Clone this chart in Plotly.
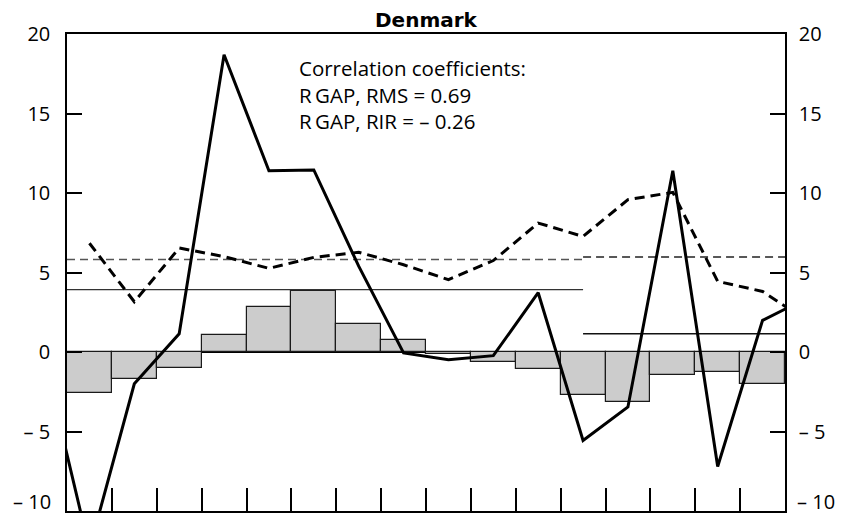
import plotly.graph_objects as go

# Period index: bars sit at 0..15; line series carry one extra period on each side
periods = list(range(16))
gap_bars = [-2.6, -1.68, -1.0, 1.04, 2.83, 3.84, 1.76, 0.73,
            -0.12, -0.6, -1.05, -2.71, -3.15, -1.45, -1.26, -2.04]

solid_x = list(range(-1, 17))
solid_vals = [-0.5, -12.4, -2.0, 1.15, 18.7, 11.4, 11.45, 5.4, -0.06,
              -0.48, -0.23, 3.73, -5.56, -3.46, 11.4, -7.2, 1.99, 3.4]

dashed_x = list(range(0, 17))
dashed_vals = [6.84, 3.16, 6.54, 6.0, 5.26, 5.95, 6.27, 5.49, 4.55,
               5.75, 8.11, 7.27, 9.58, 10.04, 4.44, 3.81, 1.95]

# Sub-period averages (split at period 11)
split_x = 11
solid_mean_left, solid_mean_right = 3.92, 1.15
dashed_mean_left, dashed_mean_right = 5.82, 5.97

y_ticks = [-10, -5, 0, 5, 10, 15, 20]
y_labels = ["\u2013 10", "\u2013 5", "0", "5", "10", "15", "20"]
y_min, y_max = y_ticks[0], y_ticks[-1]
# The lowest label is lifted slightly so it stays inside the page
axis_ticktext = [""] + y_labels[1:]

FONT = "Open Sans"

fig = go.Figure()

fig.add_trace(go.Bar(
    x=periods, y=gap_bars, width=1.0,
    marker=dict(color="#cccccc", line=dict(color="#1a1a1a", width=1.2)),
    showlegend=False, hoverinfo="skip",
))

# Horizontal average lines
fig.add_trace(go.Scatter(
    x=[-0.5, split_x], y=[solid_mean_left, solid_mean_left], mode="lines",
    line=dict(color="#333333", width=1.4), showlegend=False, hoverinfo="skip"))
fig.add_trace(go.Scatter(
    x=[split_x, 15.5], y=[solid_mean_right, solid_mean_right], mode="lines",
    line=dict(color="#111111", width=1.4), showlegend=False, hoverinfo="skip"))
fig.add_trace(go.Scatter(
    x=[-0.5, split_x], y=[dashed_mean_left, dashed_mean_left], mode="lines",
    line=dict(color="#555555", width=1.5, dash="8px,5px"), showlegend=False, hoverinfo="skip"))
fig.add_trace(go.Scatter(
    x=[split_x, 15.5], y=[dashed_mean_right, dashed_mean_right], mode="lines",
    line=dict(color="#222222", width=1.5, dash="8px,5px"), showlegend=False, hoverinfo="skip"))

fig.add_trace(go.Scatter(
    x=dashed_x, y=dashed_vals, mode="lines",
    line=dict(color="black", width=3, dash="10px,6px"),
    showlegend=False, hoverinfo="skip"))
fig.add_trace(go.Scatter(
    x=solid_x, y=solid_vals, mode="lines",
    line=dict(color="black", width=3),
    showlegend=False, hoverinfo="skip"))

# Invisible trace to carry the right-hand axis
fig.add_trace(go.Scatter(x=[0], y=[0], yaxis="y2", mode="markers",
                         marker=dict(opacity=0), showlegend=False, hoverinfo="skip"))

axis_font = dict(family=FONT, size=20, color="black")

fig.update_layout(
    width=848, height=517, autosize=False,
    margin=dict(l=67, r=63, t=34, b=6),
    paper_bgcolor="white", plot_bgcolor="white",
    bargap=0,
    xaxis=dict(
        range=[-0.5, 15.5], tickvals=[i + 0.5 for i in range(15)],
        ticks="inside", ticklen=23, tickwidth=1.5, tickcolor="black",
        showticklabels=False, showgrid=False, zeroline=False, automargin=False,
        showline=True, linecolor="black", linewidth=1.5, mirror=True,
    ),
    yaxis=dict(
        range=[y_min, y_max], tickvals=y_ticks, ticktext=axis_ticktext,
        ticks="inside", ticklen=15, tickwidth=1.5, tickcolor="black",
        tickfont=axis_font, ticklabelstandoff=11, ticklabeloverflow="allow",
        automargin=False,
        showgrid=False, zeroline=True, zerolinecolor="black", zerolinewidth=1.2,
        showline=True, linecolor="black", linewidth=1.5,
    ),
    yaxis2=dict(
        range=[y_min, y_max], tickvals=y_ticks, ticktext=axis_ticktext,
        overlaying="y", side="right", anchor="x",
        ticks="inside", ticklen=15, tickwidth=1.5, tickcolor="black",
        tickfont=axis_font, ticklabelstandoff=8, ticklabeloverflow="allow",
        automargin=False,
        showgrid=False, zeroline=False,
        showline=True, linecolor="black", linewidth=1.5,
    ),
    annotations=[
        dict(text="<b>Denmark</b>", xref="paper", yref="paper", x=0.5, y=1.0,
             yshift=14, xanchor="center", yanchor="middle", showarrow=False,
             font=dict(family="DejaVu Sans", size=20, color="black")),
        dict(text="Correlation coefficients:<br>R\u2009GAP, RMS = 0.69<br>R\u2009GAP, RIR = \u2013 0.26",
             xref="paper", yref="paper", x=0.3208, y=1 - (52 - 34) / 477.3,
             xanchor="left", yanchor="top", align="left", showarrow=False,
             font=dict(family=FONT, size=20.5, color="black")),
        # Bottom tick labels on both sides
        dict(text=y_labels[0], xref="paper", yref="y", x=0, y=y_min,
             xanchor="right", yanchor="bottom", xshift=-15, yshift=-5,
             borderpad=0, showarrow=False, font=axis_font),
        dict(text=y_labels[0], xref="paper", yref="y", x=1, y=y_min,
             xanchor="left", yanchor="bottom", xshift=11, yshift=-5,
             borderpad=0, showarrow=False, font=axis_font),
    ],
)

fig.write_html("out.html")
